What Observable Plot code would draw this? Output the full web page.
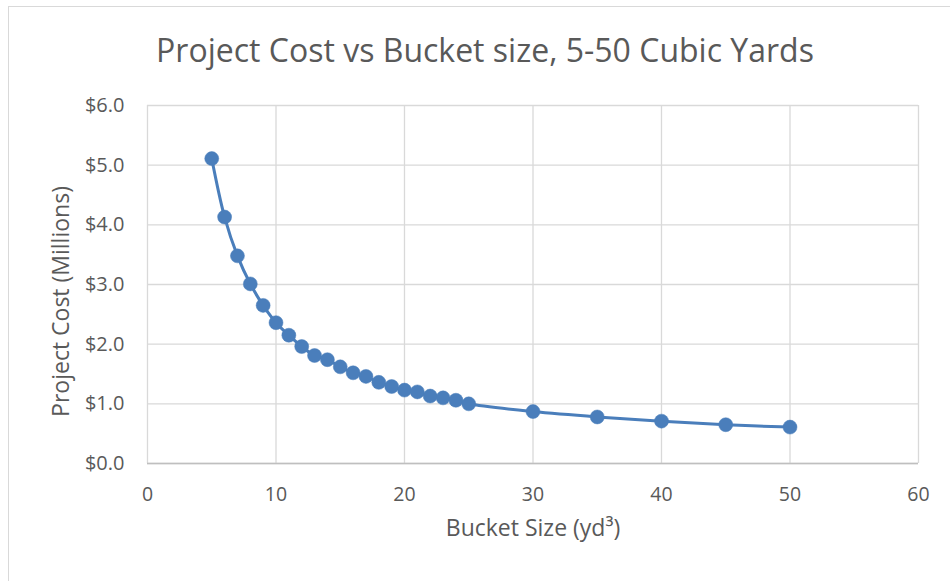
<!DOCTYPE html>
<html>
<head>
<meta charset="utf-8">
<script src="https://cdn.jsdelivr.net/npm/d3@7"></script>
<script src="https://cdn.jsdelivr.net/npm/@observablehq/plot@0.6"></script>
<style>
  html, body { margin: 0; padding: 0; background: #fff; }
  #chart {
    position: relative; width: 950px; height: 581px; overflow: hidden;
    font-family: "Open Sans", sans-serif; color: #595959;
  }
  #frame {
    position: absolute; left: 8px; top: 6px; width: 960px; height: 600px;
    border: 1px solid #d9d9d9; box-sizing: border-box;
  }
  #title {
    position: relative; height: 90px; line-height: 100px; text-align: center;
    font-size: 32px; padding-left: 20px; box-sizing: border-box;
  }
  #plot { position: relative; }
</style>
</head>
<body>
<div id="chart">
  <div id="frame"></div>
  <div id="title">Project Cost vs Bucket size, 5-50 Cubic Yards</div>
  <div id="plot"></div>
</div>
<script>
// Bucket size (cubic yards) and the resulting project cost ($ millions)
const bucketSize = [5, 6, 7, 8, 9, 10, 11, 12, 13, 14, 15, 16, 17, 18, 19, 20, 21, 22, 23, 24, 25, 30, 35, 40, 45, 50];
const projectCost = [5.11, 4.13, 3.48, 3.01, 2.65, 2.36, 2.15, 1.96, 1.81, 1.74, 1.62, 1.52, 1.46, 1.36, 1.29, 1.23, 1.20, 1.13, 1.10, 1.06, 1.00, 0.87, 0.78, 0.71, 0.65, 0.61];
const xTicks = [0, 10, 20, 30, 40, 50, 60];
const yTicks = [0, 1, 2, 3, 4, 5, 6];

const data = bucketSize.map((x, i) => ({x, y: projectCost[i]}));
const blue = "#4a7ebb";
const grid = "#d9d9d9";
const ink = "#595959";

const plot = Plot.plot({
  width: 950,
  height: 491,
  marginLeft: 147,
  marginRight: 32,
  marginTop: 15,
  marginBottom: 118,
  style: {fontFamily: "Open Sans, sans-serif", color: ink, overflow: "visible"},
  x: {domain: [0, 60], ticks: xTicks, label: null},
  y: {domain: [0, 6], ticks: yTicks, label: null},
  marks: [
    Plot.gridX(xTicks, {stroke: grid, strokeOpacity: 1, strokeWidth: 1.3}),
    Plot.gridY(yTicks, {stroke: grid, strokeOpacity: 1, strokeWidth: 1.3}),
    Plot.ruleY([0], {stroke: "#bfbfbf", strokeWidth: 1.3}),
    Plot.axisX(xTicks, {tickSize: 0, tickPadding: 24, fontSize: 19.5, fill: ink, tickFormat: d => String(d)}),
    Plot.axisY(yTicks, {tickSize: 0, tickPadding: 23, fontSize: 20, fill: ink, tickFormat: d => "$" + d.toFixed(1)}),
    Plot.line(data, {x: "x", y: "y", stroke: blue, strokeWidth: 3, curve: "catmull-rom"}),
    Plot.dot(data, {x: "x", y: "y", r: 7, fill: blue, stroke: blue, strokeWidth: 0.5}),
    Plot.text(["Bucket Size (yd³)"], {frameAnchor: "bottom", dy: 72, fontSize: 23, fill: ink}),
    Plot.text(["Project Cost (Millions)"], {frameAnchor: "left", dx: -86, dy: 17, rotate: -90, textAnchor: "middle", fontSize: 23, fill: ink})
  ]
});
document.getElementById("plot").appendChild(plot);
</script>
</body>
</html>
